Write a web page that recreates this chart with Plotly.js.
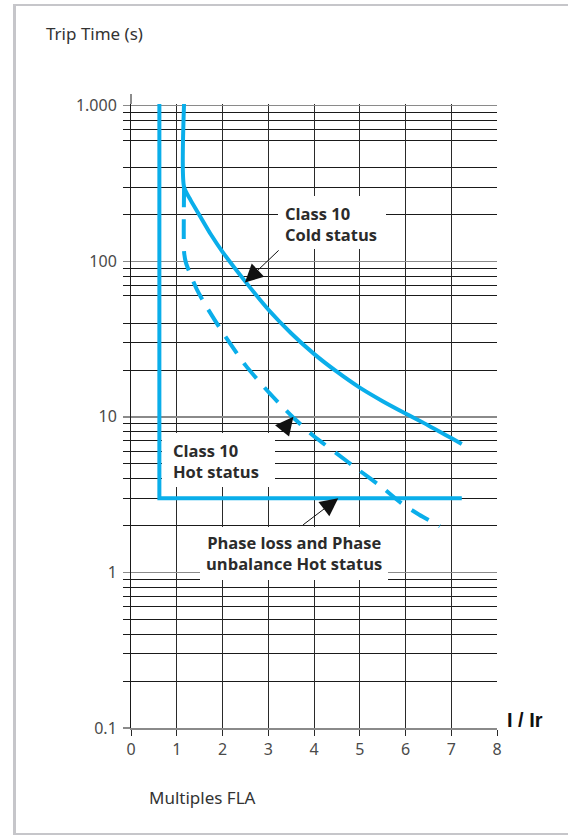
<!DOCTYPE html>
<html>
<head>
<meta charset="utf-8">
<script src="https://cdn.plot.ly/plotly-3.0.1.min.js"></script>
<style>
  html, body { margin:0; padding:0; background:#fff; width:568px; height:836px; overflow:hidden; position:relative; }
  #frame { position:absolute; left:13px; top:4px; width:900px; height:827px;
           border-left:3px solid #c6c6ca; border-top:2px solid #c6c6ca; border-bottom:2px solid #c6c6ca; }
  #chart { position:absolute; left:0; top:0; width:568px; height:836px; }
</style>
</head>
<body>
<div id="frame"></div>
<div id="chart"></div>
<script>
// ---- data ----
const xTickVals = [0, 1, 2, 3, 4, 5, 6, 7, 8];
const yTickVals = [0.1, 1, 10, 100, 1000];
const yTickText = ['0.1', '1', '10', '100', '1.000'];
const yMinorVals = [0.2, 0.3, 0.4, 0.5, 0.6, 0.7, 0.8, 0.9,
                    2, 3, 4, 5, 6, 7, 8, 9,
                    20, 30, 40, 60, 70, 80, 90,
                    200, 300, 400, 600, 700, 800, 900];

// Class 10 Hot status (solid, L-shape)
const hotX = [0.62, 0.62, 7.23];
const hotY = [1040, 3, 3];

// Class 10 Cold status (solid curve)
const coldX = [1.16, 1.16, 1.3, 1.5, 1.75, 2.0, 2.5, 3.0, 3.5, 4.0, 4.5, 5.0, 5.5, 6.0, 6.5, 7.0, 7.23];
const coldY = [1040, 300, 248, 197, 148, 115, 74, 49, 34.5, 25.4, 19.5, 15.4, 12.6, 10.5, 8.8, 7.3, 6.7];

// Phase loss and Phase unbalance Hot status (dashed curve)
const phaseX = [1.16, 1.16, 1.2, 1.3, 1.45, 1.65, 2.0, 2.5, 3.0, 3.5, 4.0, 4.5, 5.0, 5.5, 5.9, 6.3, 6.75];
const phaseY = [300, 115, 98, 82, 65, 51, 35, 21.5, 14.5, 10.2, 7.5, 5.8, 4.5, 3.5, 2.8, 2.35, 1.98];

// annotation arrows: [tipX, tipY, tailX, tailY]
const arrowCold  = [2.49, 73, 3.26, 120];
const arrowHot   = [3.55, 10, 3.26, 7.85];
const arrowPhase = [4.53, 3.0, 3.73, 1.99];

// ---- layout helpers (pixel -> paper) ----
const L = 131, T = 104, W = 366, H = 624;
const fx = px => (px - L) / W;
const fy = py => (T + H - py) / H;

const blue = '#0aaeea';
const txtFont = {family: '"Open Sans", "DejaVu Sans", sans-serif', size: 16.5, color: '#2b2b2b'};
const tickFont = {family: '"Noto Sans", "DejaVu Sans", sans-serif', size: 16, color: '#4a4a4a'};
const labFont = {family: '"Noto Sans", sans-serif', size: 17, color: '#333'};

const traces = [
  {x: hotX, y: hotY, mode: 'lines', line: {color: blue, width: 4}, hoverinfo: 'skip'},
  {x: coldX, y: coldY, mode: 'lines', line: {color: blue, width: 4, shape: 'spline', smoothing: 0.7}, hoverinfo: 'skip'},
  {x: phaseX, y: phaseY, mode: 'lines', line: {color: blue, width: 4, dash: '20px,12px', shape: 'spline', smoothing: 0.6}, hoverinfo: 'skip'}
];

function box(x0, y0, x1, y1) {
  return {type: 'rect', xref: 'paper', yref: 'paper', x0: fx(x0), x1: fx(x1), y0: fy(y1), y1: fy(y0),
          fillcolor: '#ffffff', line: {width: 0}, layer: 'above'};
}
function arrow(a) {
  return {xref: 'x', yref: 'y', axref: 'x', ayref: 'y',
          x: a[0], y: Math.log10(a[1]), ax: a[2], ay: Math.log10(a[3]),
          text: '', showarrow: true, arrowhead: 2, arrowsize: 3.6, arrowwidth: 1,
          arrowcolor: '#111', standoff: 0, startstandoff: 0};
}

const layout = {
  width: 568, height: 836,
  margin: {l: L, r: 568 - L - W, t: T, b: 836 - T - H, pad: 0},
  paper_bgcolor: 'rgba(0,0,0,0)', plot_bgcolor: 'rgba(0,0,0,0)',
  showlegend: false,
  xaxis: {
    range: [0, 8], tickmode: 'array', tickvals: xTickVals,
    showgrid: true, gridcolor: '#2a2a2a', gridwidth: 1,
    ticks: 'outside', ticklen: 6, tickcolor: '#2a2a2a', tickwidth: 1,
    showline: true, linecolor: '#8a8a8a', linewidth: 1.5,
    zeroline: false, tickfont: tickFont, fixedrange: true
  },
  yaxis: {
    type: 'log', range: [-1, 3.011], tickmode: 'array', tickvals: yTickVals, ticktext: yTickText,
    showgrid: true, gridcolor: '#8a8a8a', gridwidth: 1.5,
    ticks: 'outside', ticklen: 7, tickcolor: '#8a8a8a', tickwidth: 1.5,
    ticklabelstandoff: 3,
    minor: {tickmode: 'array', tickvals: yMinorVals, showgrid: true, gridcolor: '#1a1a1a', gridwidth: 1,
            ticks: 'outside', ticklen: 7, tickcolor: '#1a1a1a', tickwidth: 1},
    showline: true, linecolor: '#1a1a1a', linewidth: 1,
    zeroline: false, tickfont: tickFont, fixedrange: true
  },
  shapes: [
    {type: 'line', xref: 'paper', yref: 'paper', x0: 0, x1: 0, y0: 1, y1: fy(94), line: {color: '#1a1a1a', width: 1}},
    box(278, 196, 386, 249),
    box(162, 433, 275, 487),
    box(200, 527, 388, 580)
  ],
  annotations: [
    {xref: 'paper', yref: 'paper', x: fx(44), y: fy(34), xanchor: 'left', yanchor: 'middle', showarrow: false,
     text: 'Trip Time (s)', font: labFont},
    {xref: 'paper', yref: 'paper', x: fx(147), y: fy(797), xanchor: 'left', yanchor: 'middle', showarrow: false,
     text: 'Multiples FLA', font: labFont},
    {xref: 'paper', yref: 'paper', x: fx(505), y: fy(720), xanchor: 'left', yanchor: 'middle', showarrow: false,
     text: '<b>I / Ir</b>', font: {family: '"Liberation Sans Narrow", "Liberation Sans", sans-serif', size: 20, color: '#111'}},
    {xref: 'paper', yref: 'paper', x: fx(283), y: fy(223.5), xanchor: 'left', yanchor: 'middle', align: 'left', showarrow: false,
     text: '<b>Class 10</b><br><b>Cold status</b>', font: txtFont},
    {xref: 'paper', yref: 'paper', x: fx(171), y: fy(460.5), xanchor: 'left', yanchor: 'middle', align: 'left', showarrow: false,
     text: '<b>Class 10</b><br><b>Hot status</b>', font: txtFont},
    {xref: 'paper', yref: 'paper', x: fx(294), y: fy(552.5), xanchor: 'center', yanchor: 'middle', align: 'center', showarrow: false,
     text: '<b>Phase loss and Phase</b><br><b>unbalance Hot status</b>', font: txtFont},
    arrow(arrowCold), arrow(arrowHot), arrow(arrowPhase)
  ]
};

Plotly.newPlot('chart', traces, layout, {staticPlot: true, displayModeBar: false});
</script>
</body>
</html>
